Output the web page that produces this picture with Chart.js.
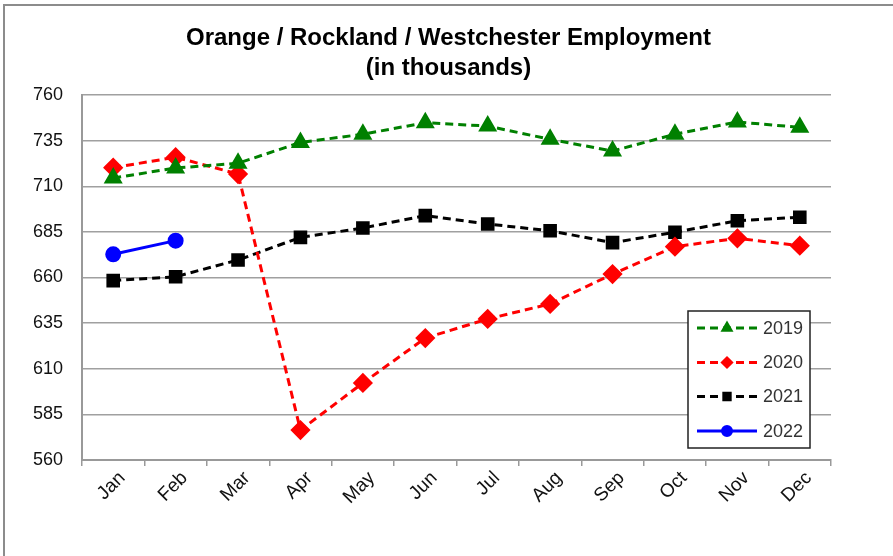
<!DOCTYPE html>
<html>
<head>
<meta charset="utf-8">
<script src="https://cdn.jsdelivr.net/npm/chart.js@4/dist/chart.umd.min.js"></script>
<style>
  html, body { margin: 0; padding: 0; background: #fff; }
  #wrap { position: relative; width: 893px; height: 556px; }
</style>
</head>
<body>
<div id="wrap"><canvas id="empChart" width="893" height="556"></canvas></div>
<script>
const months = ["Jan", "Feb", "Mar", "Apr", "May", "Jun", "Jul", "Aug", "Sep", "Oct", "Nov", "Dec"];
const emp2019 = [714.5, 720, 722.6, 734, 738.5, 744.8, 743, 735.7, 729.3, 738.5, 745.2, 742.3];
const emp2020 = [720.2, 725.9, 716.7, 576.4, 602.2, 626.8, 637.3, 645.5, 661.9, 676.9, 681.5, 677.4];
const emp2021 = [658.3, 660.4, 669.6, 682, 687.1, 693.9, 689.3, 685.6, 679.1, 684.8, 691.1, 693];
const emp2022 = [672.7, 680.2];
const yMin = 560, yMax = 760, yStep = 25;

const FONT = "'Liberation Sans', Arial, sans-serif";

// === border of the chart frame ===
const framePlugin = {
  id: "frame",
  beforeDraw(chart) {
    const c = chart.ctx;
    c.save();
    c.strokeStyle = "#8c8c8c";
    c.lineWidth = 2;
    c.beginPath();
    c.moveTo(4, chart.height);
    c.lineTo(4, 5);
    c.lineTo(chart.width, 5);
    c.stroke();
    c.restore();
  },
};

// === legend box inside the plot ===
const boxLegend = {
  id: "boxLegend",
  afterDraw(chart) {
    const c = chart.ctx;
    const x0 = 688, y0 = 311, w = 122, h = 137;
    c.save();
    c.fillStyle = "#fff";
    c.fillRect(x0, y0, w, h);
    c.strokeStyle = "#222";
    c.lineWidth = 1.5;
    c.strokeRect(x0, y0, w, h);
    const rows = [328, 362.5, 396.5, 431];
    chart.data.datasets.forEach((ds, i) => {
      const y = rows[i];
      c.strokeStyle = ds.borderColor;
      c.lineWidth = 3;
      c.setLineDash(ds.borderDash || []);
      c.beginPath();
      c.moveTo(697, y);
      c.lineTo(757, y);
      c.stroke();
      c.setLineDash([]);
      c.fillStyle = ds.backgroundColor;
      Chart.helpers.drawPoint(c, {
        pointStyle: ds.pointStyle,
        radius: 4.5,
        borderWidth: 1,
      }, 727, y);
      c.fillStyle = "#333";
      c.font = "18px " + FONT;
      c.textBaseline = "middle";
      c.textAlign = "left";
      c.fillText(ds.label, 763, y + 1);
    });
    c.restore();
  },
};

const mkSet = (label, data, color, style, radius, dashed) => ({
  label,
  data,
  borderColor: color,
  backgroundColor: color,
  pointBackgroundColor: color,
  pointBorderColor: color,
  pointStyle: style,
  pointRadius: radius,
  pointHoverRadius: radius,
  borderWidth: 3,
  borderDash: dashed ? [8, 5] : [],
  tension: 0,
});

new Chart(document.getElementById("empChart"), {
  type: "line",
  data: {
    labels: months,
    datasets: [
      mkSet("2019", emp2019, "#008000", "triangle", 8, true),
      mkSet("2020", emp2020, "#ff0000", "rectRot", 8, true),
      mkSet("2021", emp2021, "#000000", "rect", 7.5, true),
      mkSet("2022", emp2022, "#0000ff", "circle", 6.5, false),
    ],
  },
  options: {
    responsive: false,
    animation: false,
    devicePixelRatio: 1,
    layout: { padding: { left: 4, right: 0, top: 0, bottom: 0 } },
    plugins: {
      legend: { display: false },
      tooltip: { enabled: false },
      title: {
        display: true,
        text: ["Orange / Rockland / Westchester Employment", "(in thousands)"],
        color: "#000",
        font: { family: FONT, size: 24, weight: "bold", lineHeight: 1.25 },
        padding: { top: 23, bottom: 12 },
      },
    },
    scales: {
      x: {
        offset: true,
        grid: {
          offset: true,
          drawOnChartArea: false,
          drawTicks: true,
          tickLength: 6,
          color: "#999",
          lineWidth: 1.5,
        },
        border: { display: true, color: "#999", width: 2 },
        ticks: {
          color: "#111",
          font: { family: FONT, size: 19 },
          maxRotation: 45,
          minRotation: 45,
          padding: 1,
          labelOffset: 9,
        },
        afterFit: s => { s.height = 96; },
      },
      y: {
        min: yMin,
        max: yMax,
        grid: { color: "#a0a0a0", lineWidth: 1.5, drawTicks: false },
        border: { display: true, color: "#999", width: 2 },
        ticks: {
          stepSize: yStep,
          color: "#111",
          font: { family: FONT, size: 18 },
          padding: 19,
        },
        afterFit: s => { s.width = 78; },
      },
      // empty right-hand space so the title centres like the original
      ySpace: {
        position: "right",
        min: yMin,
        max: yMax,
        grid: { display: false, drawOnChartArea: false },
        border: { display: false },
        ticks: { display: false },
        afterFit: s => { s.width = 62; },
      },
    },
  },
  plugins: [framePlugin, boxLegend],
});
</script>
</body>
</html>
